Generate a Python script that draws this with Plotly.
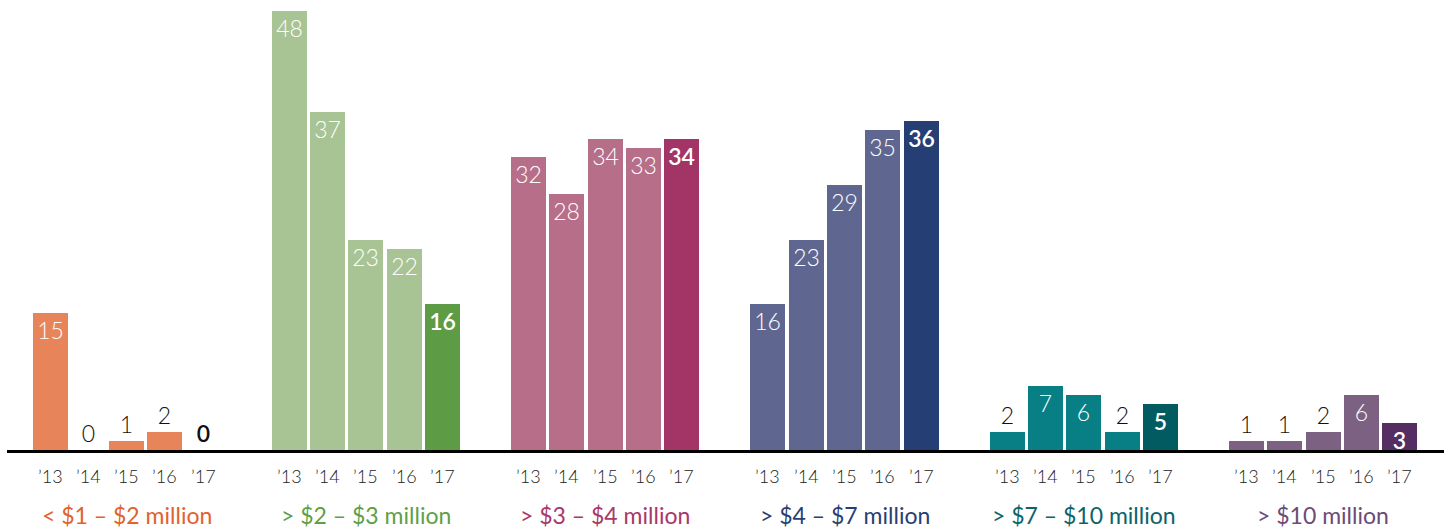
import plotly.graph_objects as go

years = ["’13", "’14", "’15", "’16", "’17"]
groups = ["< $1 – $2 million", "> $2 – $3 million", "> $3 – $4 million",
          "> $4 – $7 million", "> $7 – $10 million", "> $10 million"]

v_1_2 = [15, 0, 1, 2, 0]
v_2_3 = [48, 37, 23, 22, 16]
v_3_4 = [32, 28, 34, 33, 34]
v_4_7 = [16, 23, 29, 35, 36]
v_7_10 = [2, 7, 6, 2, 5]
v_10p = [1, 1, 2, 6, 3]
series = [v_1_2, v_2_3, v_3_4, v_4_7, v_7_10, v_10p]

light = ["#E8845A", "#A8C394", "#B66E89", "#5F6791", "#077F84", "#7D6182"]
dark = ["#E8845A", "#5D9C44", "#A23566", "#253F74", "#015B61", "#542E63"]
label_col = ["#E2622C", "#5E9F47", "#A8386A", "#283F74", "#0A6469", "#6B4B78"]

GROUP_STEP = 239.3
BAR_STEP = 38.3
X0 = 50
INSIDE_MIN = 3  # values at or above this get the label inside the bar

fig = go.Figure()
for g, vals in enumerate(series):
    xs = [X0 + g * GROUP_STEP + i * BAR_STEP for i in range(len(vals))]
    colors = [light[g]] * 4 + [dark[g]]
    pos = ["inside" if v >= INSIDE_MIN else "outside" for v in vals]
    tcol = ["white" if v >= INSIDE_MIN else "#111111" for v in vals]
    weights = [300, 300, 300, 300, 600]
    fig.add_trace(go.Bar(
        x=xs, y=vals, width=35,
        marker=dict(color=colors, line=dict(width=0)),
        text=[str(v) for v in vals],
        textposition=pos,
        insidetextanchor="end",
        textangle=0,
        textfont=dict(family="Lato", size=23, color=tcol, weight=weights),
        cliponaxis=False,
        showlegend=False,
        hoverinfo="skip",
    ))
    for i, yr in enumerate(years):
        fig.add_annotation(x=xs[i], y=0, xref="x", yref="paper", text=yr,
                           showarrow=False, yanchor="middle", yshift=-26,
                           font=dict(family="Lato", size=18, color="#222222", weight=300))
    fig.add_annotation(x=xs[2], y=0, xref="x", yref="paper", text=groups[g],
                       showarrow=False, yanchor="middle", yshift=-65,
                       font=dict(family="Lato", size=23, color=label_col[g], weight=400))

fig.update_layout(
    width=1448, height=529,
    margin=dict(l=7, r=4, t=0, b=79),
    paper_bgcolor="white", plot_bgcolor="white",
    bargap=0,
    xaxis=dict(range=[7, 1444], showgrid=False, zeroline=False, showticklabels=False,
               showline=True, linecolor="black", linewidth=3, ticks=""),
    yaxis=dict(range=[0, 49.2], showgrid=False, zeroline=False, showticklabels=False,
               showline=False, ticks=""),
    uniformtext=dict(minsize=23, mode="show"),
)

fig.write_html("out.html")
